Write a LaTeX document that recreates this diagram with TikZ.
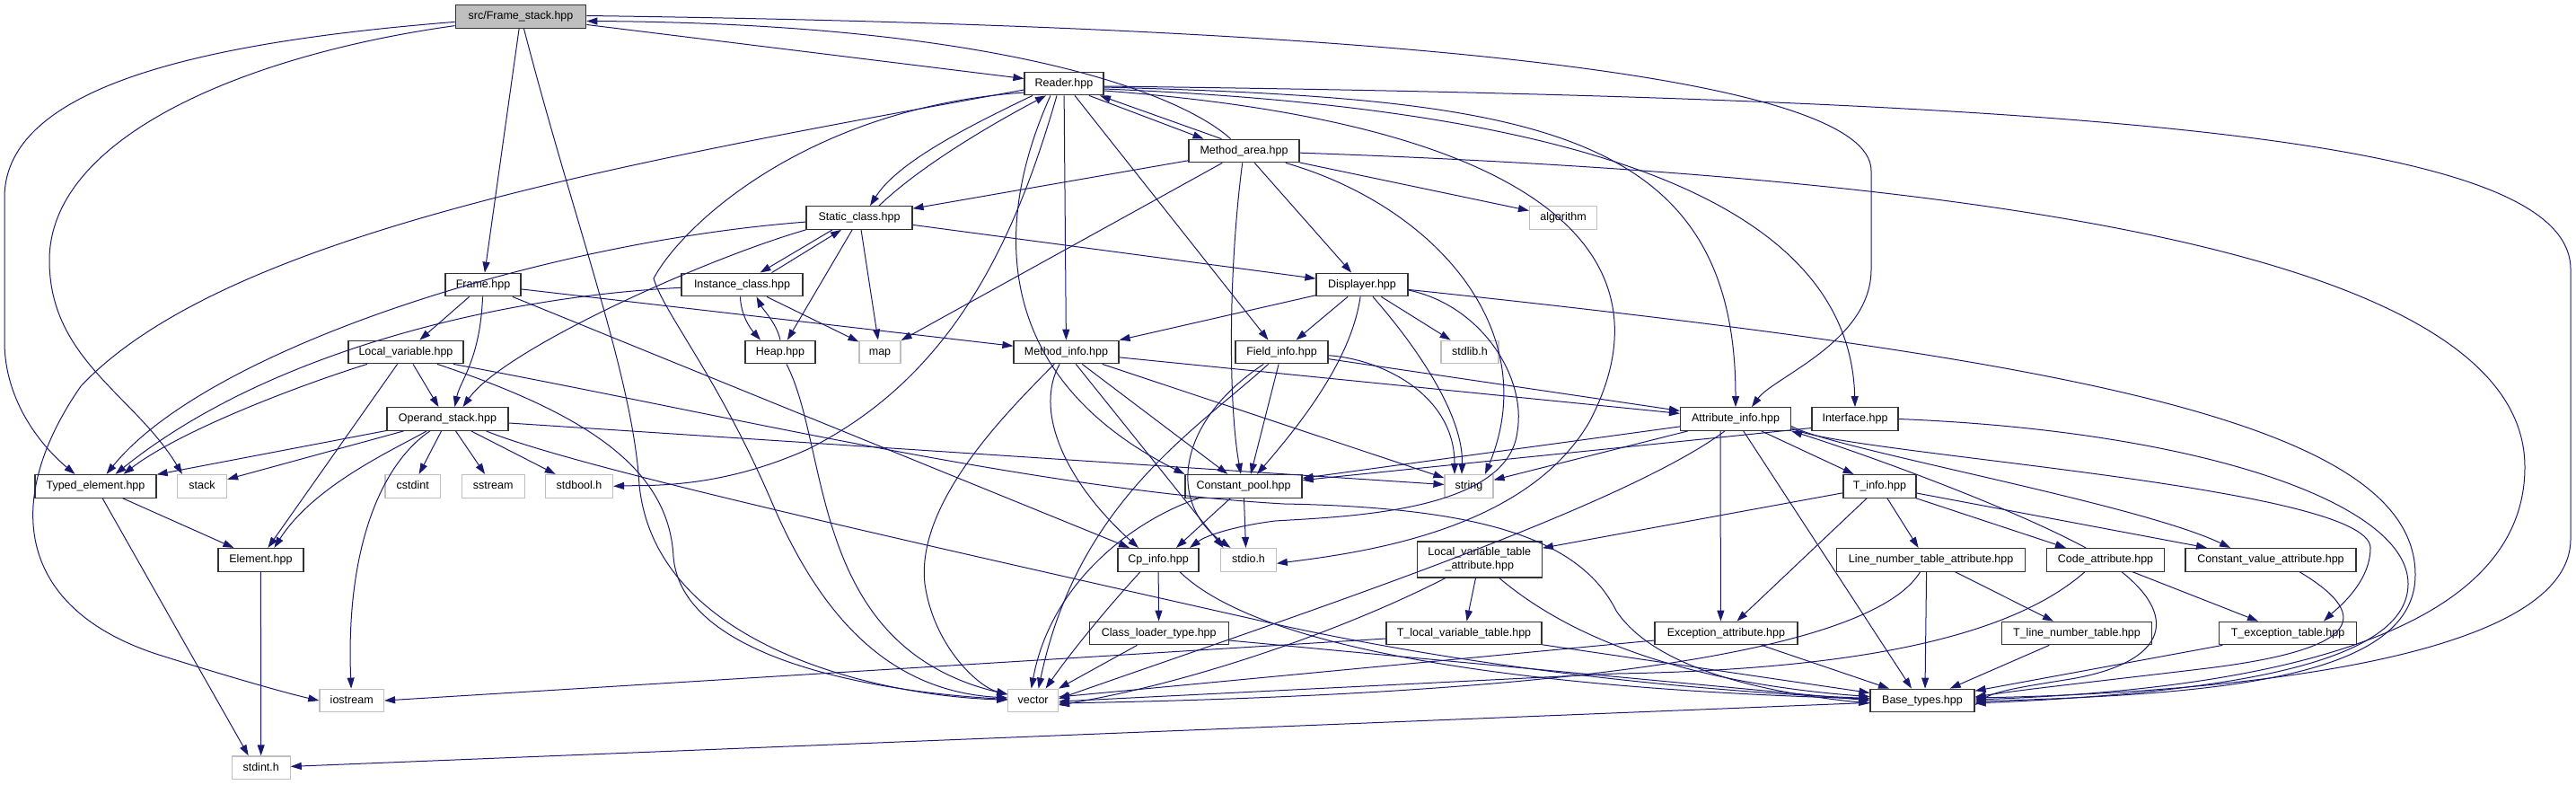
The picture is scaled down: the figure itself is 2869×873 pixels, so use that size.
\documentclass[tikz,border=0pt]{standalone}
\usepackage{fontspec}
\newfontfamily\dfont{Liberation Sans}
\usetikzlibrary{arrows.meta}
\definecolor{edgeblue}{HTML}{191970}
\begin{document}
\begin{tikzpicture}[x=1pt,y=-1pt,
  box/.style={draw=black!80, fill=white, line width=1.2pt, minimum height=25.6pt, inner xsep=3pt, inner ysep=0pt, font=\dfont\fontsize{12.5pt}{15pt}\selectfont, text height=9.2pt, text depth=2.6pt},
  sysbox/.style={box, draw=black!25},
  rootbox/.style={box, fill=black!25},
  dep/.style={draw=edgeblue, line width=1pt, -{Triangle[length=12pt,width=8pt]}},
]
\useasboundingbox (0,0) rectangle (2869,873);
% nodes
\node[rootbox, minimum width=145.5pt] (FS) at (580,18.5) {src/Frame\_stack.hpp};
\node[box, minimum width=88pt] (Reader) at (1185,93) {Reader.hpp};
\node[box, minimum width=123pt] (MA) at (1385.5,168) {Method\_area.hpp};
\node[box, minimum width=118pt] (Static) at (957,242.5) {Static\_class.hpp};
\node[sysbox, minimum width=75pt] (algorithm) at (1741,242.5) {algorithm};
\node[box, minimum width=84pt] (Frame) at (538,317) {Frame.hpp};
\node[box, minimum width=135pt] (Instance) at (826.5,317) {Instance\_class.hpp};
\node[box, minimum width=102pt] (Displayer) at (1517,317) {Displayer.hpp};
\node[box, minimum width=128pt] (Local) at (452,392) {Local\_variable.hpp};
\node[box, minimum width=78pt] (Heap) at (869,392) {Heap.hpp};
\node[sysbox, minimum width=46pt] (map) at (980,392) {map};
\node[box, minimum width=117pt] (MInfo) at (1187.5,392) {Method\_info.hpp};
\node[box, minimum width=103pt] (FInfo) at (1427.5,392) {Field\_info.hpp};
\node[sysbox, minimum width=64pt] (stdlib) at (1637,392) {stdlib.h};
\node[box, minimum width=135pt] (Operand) at (498.5,466.5) {Operand\_stack.hpp};
\node[box, minimum width=123pt] (Attr) at (1933,466.5) {Attribute\_info.hpp};
\node[box, minimum width=96pt] (Interface) at (2066,466.5) {Interface.hpp};
\node[box, minimum width=135pt] (Typed) at (106.5,541.3) {Typed\_element.hpp};
\node[sysbox, minimum width=55pt] (stack) at (225,541.3) {stack};
\node[sysbox, minimum width=61.5pt] (cstdint) at (459.7,541.3) {cstdint};
\node[sysbox, minimum width=70pt] (sstream) at (549.2,541.3) {sstream};
\node[sysbox, minimum width=75pt] (stdbool) at (645,541.3) {stdbool.h};
\node[box, minimum width=130pt] (CP) at (1385,541.3) {Constant\_pool.hpp};
\node[sysbox, minimum width=54pt] (string) at (1636,541.3) {string};
\node[box, minimum width=81pt] (TInfo) at (2093.4,541.3) {T\_info.hpp};
\node[box, minimum width=95pt] (Element) at (290.4,623.3) {Element.hpp};
\node[box, minimum width=90pt] (CpInfo) at (1290,623.3) {Cp\_info.hpp};
\node[sysbox, minimum width=61.5pt] (stdio) at (1390.5,623.3) {stdio.h};
\node[box, minimum width=139pt, minimum height=40pt, align=center, text height=24.2pt, text depth=2.6pt] (LVTA) at (1647.8,623) {Local\_variable\_table\\\_attribute.hpp};
\node[box, minimum width=210pt] (LNTA) at (2150.6,623.3) {Line\_number\_table\_attribute.hpp};
\node[box, minimum width=131pt] (Code) at (2345,623.3) {Code\_attribute.hpp};
\node[box, minimum width=190pt] (ConstVal) at (2529,623.3) {Constant\_value\_attribute.hpp};
\node[box, minimum width=155pt] (ClassLoader) at (1290.7,705) {Class\_loader\_type.hpp};
\node[box, minimum width=173pt] (TLocal) at (1630.5,705) {T\_local\_variable\_table.hpp};
\node[box, minimum width=159pt] (Exception) at (1922.4,705) {Exception\_attribute.hpp};
\node[box, minimum width=167pt] (TLine) at (2313,705) {T\_line\_number\_table.hpp};
\node[box, minimum width=152.5pt] (TExc) at (2548,705) {T\_exception\_table.hpp};
\node[sysbox, minimum width=71.6pt] (iostream) at (391.7,780) {iostream};
\node[sysbox, minimum width=55.6pt] (vector) at (1150.6,780) {vector};
\node[box, minimum width=116pt] (Base) at (2141,780) {Base\_types.hpp};
\node[sysbox, minimum width=65pt] (stdint) at (290.7,854.7) {stdint.h};
% Frame_stack
\draw[dep] (FS) -- (Reader);
\draw[dep] (FS) -- (Frame);
\draw[dep] (FS) .. controls (640,250) and (705,420) .. (712,540) .. controls (730,720) and (980,775) .. (vector);
\draw[dep] (FS) .. controls (250,45) and (5,90) .. (5,220) -- (5,380) .. controls (5,450) and (50,500) .. ([xshift=-23pt]Typed.north);
\draw[dep] (FS) .. controls (280,60) and (55,150) .. (55,290) .. controls (55,400) and (150,440) .. ([xshift=-22pt]stack.north);
\draw[dep] ([yshift=1pt]FS.east) .. controls (1600,30) and (2084,90) .. (2084,190) -- (2084,300) .. controls (2084,380) and (1975,420) .. ([xshift=18pt]Attr.north);
% Reader
\draw[dep] ([xshift=-35pt]Reader.south) .. controls (1080,140) and (1000,180) .. ([xshift=12pt]Static.north);
\draw[dep] ([xshift=22pt]Static.north) .. controls (1030,180) and (1120,130) .. ([xshift=-20pt]Reader.south);
\draw[dep] ([xshift=28pt]Reader.south) -- ([xshift=-45pt]MA.north);
\draw[dep] ([xshift=-25pt]MA.north) -- ([xshift=40pt]Reader.south);
\draw[dep] (MA) .. controls (1310,100) and (1100,26) .. ([yshift=-5pt]FS.east);
\draw[dep] (Reader) -- (MInfo);
\draw[dep] ([xshift=12pt]Reader.south) -- ([xshift=-15pt]FInfo.north);
\draw[dep] ([yshift=-4pt]Reader.east) .. controls (1700,110) and (1933,140) .. (Attr.north);
\draw[dep] ([yshift=-6pt]Reader.east) .. controls (1750,120) and (2060,220) .. (Interface.north);
\draw[dep] ([yshift=-3pt]Reader.east) .. controls (2400,110) and (2863,160) .. (2863,300) -- (2863,600) .. controls (2863,740) and (2450,772) .. ([yshift=3pt]Base.east);
\draw[dep] ([xshift=-15pt]Reader.south) .. controls (1105,250) and (1105,420) .. (CP.north west);
\draw[dep] ([yshift=-8pt]Reader.east) .. controls (1750,140) and (1860,300) .. (1770,470) .. controls (1700,590) and (1520,615) .. ([yshift=-4pt]stdio.east);
\draw[dep] ([xshift=-8pt]Reader.south) .. controls (1130,270) and (1060,420) .. (900,500) .. controls (800,545) and (720,540) .. (stdbool.east);
\draw[dep] ([yshift=-7pt]Reader.west) .. controls (700,180) and (250,260) .. (90,430) .. controls (0,560) and (20,680) .. (180,730) .. controls (260,755) and (320,772) .. (iostream.west);
\draw[dep] ([yshift=-10pt]Reader.west) .. controls (900,120) and (760,250) .. (728,310) .. controls (740,350) and (800,420) .. (860,560) .. controls (920,700) and (1000,770) .. ([yshift=3pt]vector.west);
% Method_area
\draw[dep] (MA) -- (Static);
\draw[dep] (MA) -- (map);
\draw[dep] (MA) .. controls (1368,300) and (1368,450) .. ([xshift=-3pt]CP.north);
\draw[dep] (MA) -- (Displayer);
\draw[dep] (MA) -- (algorithm);
\draw[dep] (MA) .. controls (1600,230) and (1720,370) .. ([xshift=18pt]string.north);
\draw[dep] (MA) .. controls (2300,200) and (2812,300) .. (2812,520) .. controls (2812,730) and (2450,770) .. ([yshift=1pt]Base.east);
% Static / Instance / Heap
\draw[dep] ([xshift=-30pt]Static.south) -- ([xshift=20pt]Instance.north);
\draw[dep] ([xshift=33pt]Instance.north) -- ([xshift=-20pt]Static.south);
\draw[dep] (Static) -- (Heap);
\draw[dep] (Static) -- (map);
\draw[dep] (Static) -- (Displayer);
\draw[dep] (Static) .. controls (600,270) and (230,390) .. ([xshift=12pt]Typed.north);
\draw[dep] (Static.south west) .. controls (780,290) and (560,390) .. ([xshift=17pt]Operand.north);
\draw[dep] ([xshift=-2pt]Instance.south) .. controls (825,350) and (835,365) .. ([xshift=-22pt]Heap.north);
\draw[dep] (Heap.north) .. controls (865,360) and (850,345) .. ([xshift=16pt]Instance.south);
\draw[dep] (Instance) -- (map);
\draw[dep] (Instance) .. controls (560,330) and (300,390) .. ([xshift=22pt]Typed.north);
\draw[dep] (Heap) .. controls (925,500) and (900,720) .. (vector);
% Frame
\draw[dep] (Frame) -- (Local);
\draw[dep] (Frame) .. controls (535,400) and (512,425) .. ([xshift=8pt]Operand.north);
\draw[dep] (Frame) -- (MInfo);
\draw[dep] (Frame) -- ([xshift=-32pt]CpInfo.north);
% Local_variable
\draw[dep] (Local) .. controls (330,430) and (200,480) .. ([xshift=31pt]Typed.north);
\draw[dep] (Local) -- ([xshift=-10pt]Operand.north);
\draw[dep] (Local) -- ([xshift=8pt]Element.north);
\draw[dep] ([xshift=53pt]Local.south) .. controls (800,460) and (1150,545) .. (1430,561) .. controls (1650,565) and (1760,600) .. (1800,680) .. controls (1840,740) and (1950,770) .. ([yshift=-3pt]Base.west);
\draw[dep] ([xshift=35pt]Local.south) .. controls (650,460) and (745,520) .. (750,620) .. controls (760,740) and (1000,772) .. (vector);
% Operand_stack
\draw[dep] (Operand) -- (Typed);
\draw[dep] (Operand) -- (stack);
\draw[dep] (Operand) .. controls (440,500) and (350,540) .. ([xshift=15pt]Element.north);
\draw[dep] (Operand) -- (cstdint);
\draw[dep] (Operand) -- (sstream);
\draw[dep] (Operand) -- (stdbool);
\draw[dep] (Operand) .. controls (420,520) and (385,620) .. (iostream);
\draw[dep] (Operand) -- (string);
\draw[dep] ([xshift=43pt]Operand.south) .. controls (640,520) and (1000,600) .. (1430,697) .. controls (1700,755) and (1950,772) .. (Base);
% Typed / Element
\draw[dep] (Typed) -- ([xshift=-30pt]Element.north);
\draw[dep] (Typed) -- ([xshift=-14pt]stdint.north);
\draw[dep] (Element) -- (stdint);
% Displayer
\draw[dep] (Displayer) -- (MInfo);
\draw[dep] (Displayer) -- (FInfo);
\draw[dep] (Displayer) -- (stdlib);
\draw[dep] (Displayer) .. controls (1505,400) and (1450,470) .. ([xshift=15pt]CP.north);
\draw[dep] ([xshift=12pt]Displayer.south) .. controls (1590,400) and (1630,470) .. ([xshift=-8pt]string.north);
\draw[dep] (Displayer) .. controls (2300,400) and (2690,470) .. (2690,640) .. controls (2690,760) and (2450,773) .. ([yshift=-1pt]Base.east);
\draw[dep] ([yshift=-6pt]Displayer.east) .. controls (1650,340) and (1700,420) .. (1690,480) .. controls (1680,570) and (1500,575) .. (1420,580) .. controls (1380,585) and (1345,595) .. ([xshift=35pt]CpInfo.north);
% Method_info
\draw[dep] (MInfo) -- (Attr);
\draw[dep] (MInfo) -- (CP);
\draw[dep] (MInfo) .. controls (1150,460) and (1190,540) .. ([xshift=-22pt]CpInfo.north);
\draw[dep] (MInfo) -- ([xshift=-28pt]stdio.north);
\draw[dep] (MInfo) -- (string);
\draw[dep] (MInfo) .. controls (1120,460) and (1020,560) .. (1030,650) .. controls (1040,720) and (1090,765) .. (vector);
% Field_info
\draw[dep] (FInfo) -- (Attr);
\draw[dep] (FInfo) -- ([xshift=8pt]CP.north);
\draw[dep] (FInfo) .. controls (1310,470) and (1300,560) .. ([xshift=-20pt]stdio.north);
\draw[dep] (FInfo) .. controls (1540,400) and (1620,440) .. ([xshift=-16pt]string.north);
\draw[dep] (FInfo) .. controls (1330,480) and (1200,560) .. ([xshift=6pt]vector.north);
% Attribute_info
\draw[dep] (Attr) -- (CP);
\draw[dep] ([yshift=-10pt]Interface.west) -- (CP);
\draw[dep] (Attr) -- (string);
\draw[dep] (Attr) -- (TInfo);
\draw[dep] ([xshift=-17pt]Attr.south) -- ([xshift=-6pt]Exception.north);
\draw[dep] (Attr) -- ([xshift=-12pt]Base.north);
\draw[dep] ([xshift=-12pt]Attr.south) .. controls (1800,570) and (1400,700) .. ([yshift=2pt]vector.east);
\draw[dep] ([yshift=-8pt]Attr.east) .. controls (2040,500) and (2380,560) .. ([xshift=-45pt]ConstVal.north);
\draw[dep] ([yshift=-10pt]Attr.east) .. controls (2040,505) and (2640,540) .. (2640,610) .. controls (2640,650) and (2600,680) .. ([xshift=40pt]TExc.north);
\draw[dep] ([xshift=-22pt]Code.north) .. controls (2230,560) and (2060,500) .. (Attr.south east);
\draw[dep] (Interface.east) .. controls (2450,480) and (2682,560) .. (2682,650) .. controls (2682,745) and (2450,772) .. ([yshift=-3pt]Base.east);
% T_info
\draw[dep] (TInfo) -- (LVTA);
\draw[dep] (TInfo) -- ([xshift=12pt]Exception.north);
\draw[dep] (TInfo) -- ([xshift=-14pt]LNTA.north);
\draw[dep] (TInfo) -- ([xshift=-44pt]Code.north);
\draw[dep] (TInfo) -- ([xshift=-71pt]ConstVal.north);
% attributes
\draw[dep] ([xshift=30pt]Code.south) -- ([xshift=-33pt]TExc.north);
\draw[dep] ([xshift=18pt]Code.south) .. controls (2430,690) and (2410,740) .. (2300,757) .. controls (2250,765) and (2220,770) .. ([yshift=-5pt]Base.east);
\draw[dep] ([xshift=-23pt]Code.south) .. controls (2250,700) and (2100,745) .. (1800,750) -- ([yshift=-1pt]vector.east);
\draw[dep] ([xshift=-5pt]LNTA.south) -- ([xshift=3pt]Base.north);
\draw[dep] (LNTA) -- ([xshift=-26pt]TLine.north);
\draw[dep] ([xshift=-12pt]LNTA.south) .. controls (2100,700) and (1900,770) .. ([yshift=-3pt]vector.east);
\draw[dep] (TLine) -- (Base);
\draw[dep] (TExc) -- (Base);
\draw[dep] ([xshift=32pt]ConstVal.south) .. controls (2650,690) and (2620,725) .. (2450,745) .. controls (2350,757) and (2250,768) .. ([yshift=4pt]Base.east);
\draw[dep] (LVTA) -- ([xshift=3pt]TLocal.north);
\draw[dep] ([xshift=22pt]LVTA.south) .. controls (1760,720) and (1900,762) .. (Base);
\draw[dep] ([xshift=-38pt]LVTA.south) .. controls (1500,700) and (1330,760) .. ([yshift=-5pt]vector.east);
\draw[dep] ([yshift=-6pt]TLocal.west) -- (iostream.east);
\draw[dep] (TLocal) -- (Base);
\draw[dep] ([yshift=-8pt]Exception.west) -- ([yshift=4pt]vector.east);
\draw[dep] (Exception) -- ([xshift=-37pt]Base.north);
% Constant_pool / Cp_info
\draw[dep] (CP) -- ([xshift=20pt]CpInfo.north);
\draw[dep] (CP) -- ([xshift=-3pt]stdio.north);
\draw[dep] ([xshift=-50pt]CP.south) .. controls (1260,580) and (1170,650) .. ([xshift=-2pt]vector.north);
\draw[dep] (CpInfo) -- (ClassLoader);
\draw[dep] ([xshift=-20pt]CpInfo.south) .. controls (1230,680) and (1190,730) .. ([xshift=14pt]vector.north);
\draw[dep] ([xshift=24pt]CpInfo.south) .. controls (1420,740) and (1800,770) .. ([yshift=2pt]Base.west);
\draw[dep] (ClassLoader) -- (vector.north east);
\draw[dep] ([yshift=-8pt]ClassLoader.east) -- (Base.west);
\draw[dep] (Base) -- (stdint);
\end{tikzpicture}
\end{document}
